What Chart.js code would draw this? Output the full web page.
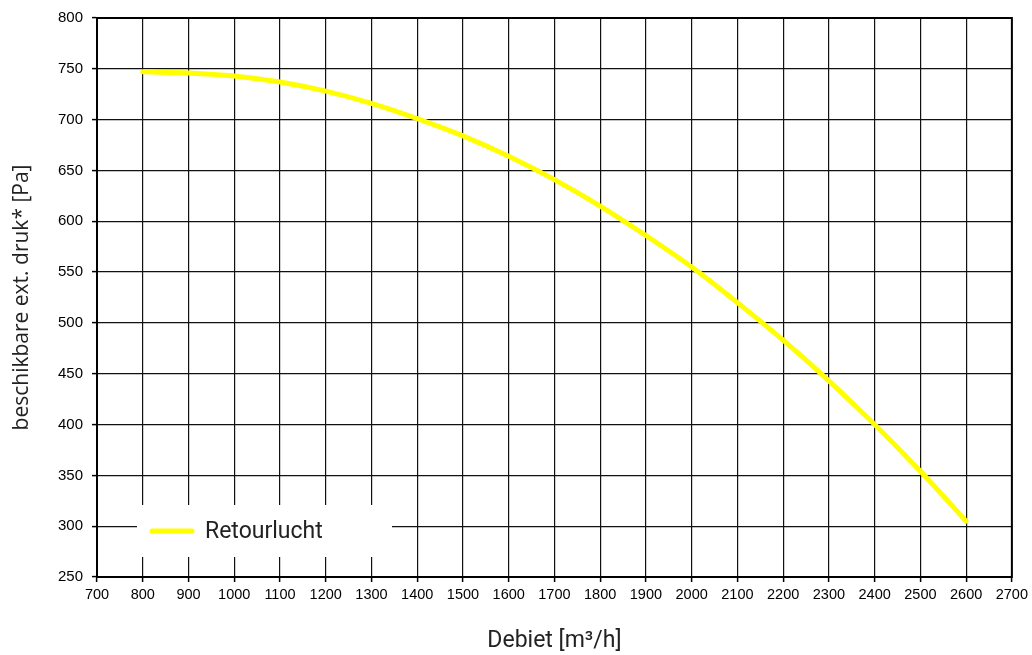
<!DOCTYPE html>
<html>
<head>
<meta charset="utf-8">
<script src="https://cdn.jsdelivr.net/npm/chart.js@4.4.0/dist/chart.umd.min.js"></script>
<style>
  html, body { margin: 0; padding: 0; background: #fff; }
  #wrap { width: 1032px; height: 655px; }
</style>
</head>
<body>
<div id="wrap"><canvas id="c" width="1032" height="655"></canvas></div>
<script>
// Data
const flow = [800, 900, 1000, 1100, 1200, 1300, 1400, 1500, 1600, 1700, 1800, 1900, 2000, 2100, 2200, 2300, 2400, 2500, 2600];
const pressure = [747, 746, 743, 737, 728, 716, 701, 684, 664, 641, 615, 586, 555, 520, 483, 443, 400, 354, 305];
const seriesLabel = 'Retourlucht';
const xTitle = 'Debiet [m³/h]';
const yTitle = 'beschikbare ext. druk* [Pa]';
const xMin = 700, xMax = 2700, xStep = 100;
const yMin = 250, yMax = 800, yStep = 50;

const points = flow.map((x, i) => ({ x: x, y: pressure[i] }));

const framePlugin = {
  id: 'frame',
  afterDraw(chart) {
    const { ctx, chartArea: a } = chart;
    ctx.save();
    ctx.strokeStyle = '#000';
    ctx.lineWidth = 2;
    ctx.strokeRect(a.left, a.top, a.right - a.left, a.bottom - a.top);
    ctx.restore();
  }
};

const legendPlugin = {
  id: 'insideLegend',
  afterDraw(chart) {
    const { ctx, chartArea: a } = chart;
    const ds = chart.data.datasets[0];
    const bx = a.left + 40, by = a.bottom - 72, bw = 255, bh = 52;
    ctx.save();
    ctx.fillStyle = '#fff';
    ctx.fillRect(bx, by, bw, bh);
    const cy = by + 26;
    ctx.strokeStyle = ds.borderColor;
    ctx.lineWidth = ds.borderWidth;
    ctx.lineCap = 'round';
    ctx.beginPath();
    ctx.moveTo(bx + 15, cy);
    ctx.lineTo(bx + 55, cy);
    ctx.stroke();
    ctx.fillStyle = '#222';
    ctx.font = '23px Roboto';
    ctx.textBaseline = 'middle';
    ctx.textAlign = 'left';
    ctx.fillText(ds.label, bx + 68, cy + 1);
    ctx.restore();
  }
};

new Chart(document.getElementById('c'), {
  type: 'line',
  data: {
    datasets: [{
      label: seriesLabel,
      data: points,
      borderColor: '#ffff00',
      backgroundColor: '#ffff00',
      borderWidth: 5,
      borderCapStyle: 'round',
      pointRadius: 0,
      tension: 0.4,
      cubicInterpolationMode: 'monotone',
      fill: false
    }]
  },
  options: {
    responsive: false,
    animation: false,
    devicePixelRatio: 1,
    layout: { padding: { top: 18, right: 17, left: 0, bottom: 0 } },
    plugins: {
      legend: { display: false },
      tooltip: { enabled: false }
    },
    scales: {
      x: {
        type: 'linear',
        min: xMin, max: xMax,
        afterFit(scale) { scale.height = 78; },
        ticks: {
          stepSize: xStep,
          autoSkip: false,
          maxRotation: 0,
          color: '#000',
          font: { family: 'Liberation Sans, Arial', size: 14.5 },
          padding: 4,
          callback: (v) => String(v)
        },
        grid: { color: '#111', lineWidth: 1.2, tickLength: 5, tickColor: '#000', tickWidth: 1.5 },
        border: { color: '#000', width: 2 },
        title: {
          display: true,
          text: xTitle,
          color: '#222',
          font: { family: 'Roboto', size: 23 },
          padding: { top: 0, bottom: 0 }
        }
      },
      y: {
        type: 'linear',
        min: yMin, max: yMax,
        afterFit(scale) { scale.width = 97; },
        ticks: {
          stepSize: yStep,
          color: '#000',
          font: { family: 'Liberation Sans, Arial', size: 15 },
          padding: 9,
          callback: (v) => String(v)
        },
        grid: { color: '#111', lineWidth: 1.2, tickLength: 5, tickColor: '#000', tickWidth: 1.5 },
        border: { color: '#000', width: 2 },
        title: {
          display: true,
          text: yTitle,
          color: '#222',
          font: { family: 'Open Sans', size: 21 },
          padding: { top: 9, bottom: 0 }
        }
      }
    }
  },
  plugins: [framePlugin, legendPlugin]
});
</script>
</body>
</html>
